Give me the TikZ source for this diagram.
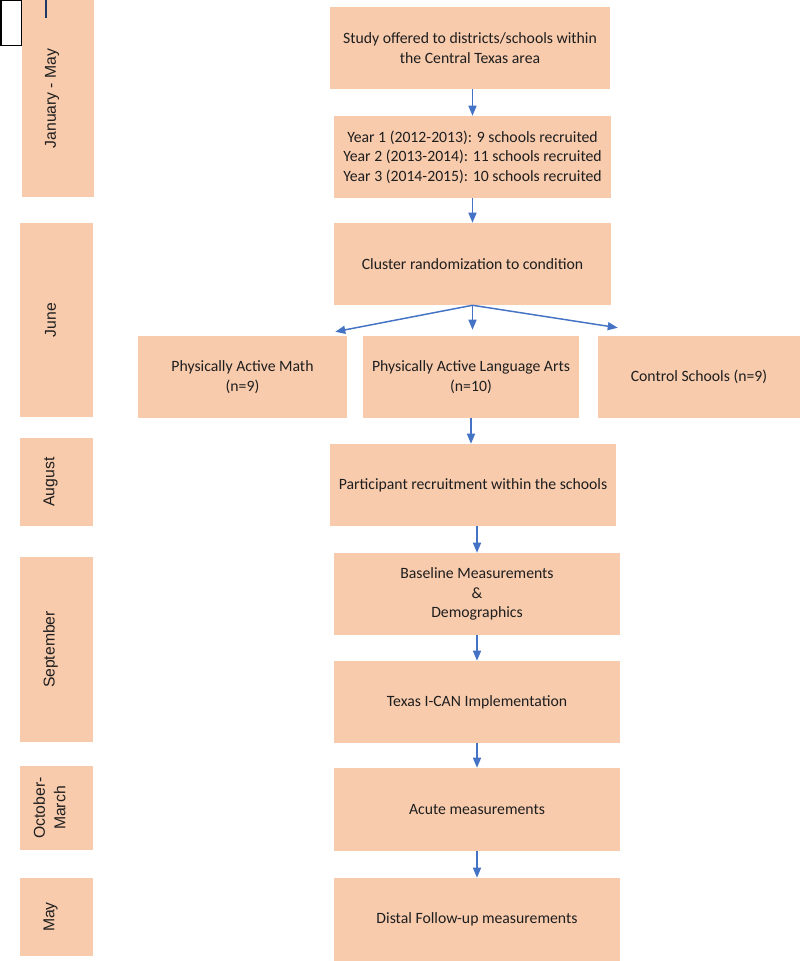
\documentclass[tikz,border=0pt]{standalone}
\usepackage{fontspec}
\setmainfont{Carlito}
\newfontfamily\armfont{Liberation Sans}
\usetikzlibrary{arrows.meta,calc}
\definecolor{salmon}{RGB}{248,203,173}
\definecolor{arrblue}{RGB}{68,114,196}
\definecolor{navy}{RGB}{31,56,100}
\definecolor{txt}{RGB}{30,30,30}
\tikzset{
  box/.style={fill=salmon, draw=none, inner sep=0pt, align=center, text=txt,
    font=\fontsize{11.8}{14.6}\selectfont},
  monthbox/.style={fill=salmon, draw=none, inner sep=0pt},
  monthtxt/.style={rotate=90, align=center, text=txt, inner sep=0pt,
    font=\armfont\fontsize{11.8}{15.5}\selectfont},
  arr/.style={draw=arrblue, line width=1.1pt, -{Triangle[length=7.5pt,width=6pt]}}
}
\begin{document}
\begin{tikzpicture}[x=0.75pt,y=-0.75pt]
\useasboundingbox (0,0) rectangle (800,961);
% stray mark at top left
\draw[black, line width=1.1pt] (0.8,0.5) rectangle (22,45.5);
% month column
\node[monthbox, minimum width=54pt, minimum height=147.75pt] (jan) at (58,98.5) {};
\node[monthtxt] (janT) at ($(jan.center)+(-6,0)$) {January - May};
\node[monthbox, minimum width=54.75pt, minimum height=145.5pt] (jun) at (56.5,320) {};
\node[monthtxt] (junT) at ($(jun.center)+(-6,0)$) {June};
\node[monthbox, minimum width=54.75pt, minimum height=66pt] (aug) at (56.5,482) {};
\node[monthtxt] (augT) at ($(aug.center)+(-6,0)$) {August};
\node[monthbox, minimum width=54.75pt, minimum height=138.75pt] (sep) at (56.5,649.5) {};
\node[monthtxt] (sepT) at ($(sep.center)+(-6,0)$) {September};
\node[monthbox, minimum width=54.75pt, minimum height=63pt] (oct) at (56.5,808) {};
\node[monthtxt] (octT) at ($(oct.center)+(-7,0)$) {October-\\March};
\node[monthbox, minimum width=54.75pt, minimum height=58.5pt] (may) at (56.5,917) {};
\node[monthtxt] (mayT) at ($(may.center)+(-6,0)$) {May};
% stray dark line at top of the first month box
\draw[navy, line width=1.6pt] (46,0) -- (46,18);
% main flow
\node[box, minimum width=210pt, minimum height=61.5pt] (study) at (470,48)
  {Study offered to districts/schools within\\the Central Texas area};
\node[box, minimum width=207.75pt, minimum height=61.5pt] (year) at (472.5,157)
  {Year 1 (2012-2013): 9 schools recruited\\Year 2 (2013-2014): 11 schools recruited\\Year 3 (2014-2015): 10 schools recruited};
\node[box, minimum width=207.75pt, minimum height=61.5pt] (cluster) at (472.5,264)
  {Cluster randomization to condition};
\node[box, minimum width=156.75pt, minimum height=61.5pt] (math) at (242.5,377)
  {Physically Active Math\\(n=9)};
\node[box, minimum width=162pt, minimum height=61.5pt] (lang) at (471,377)
  {Physically Active Language Arts\\(n=10)};
\node[box, minimum width=151.5pt, minimum height=61.5pt] (control) at (699,377)
  {Control Schools (n=9)};
\node[box, minimum width=214.5pt, minimum height=61.5pt] (part) at (473,485)
  {Participant recruitment within the schools};
\node[box, minimum width=214.5pt, minimum height=61.5pt] (base) at (477,594)
  {Baseline Measurements\\\&\\Demographics};
\node[box, minimum width=214.5pt, minimum height=61.5pt] (texas) at (477,702)
  {Texas I-CAN Implementation};
\node[box, minimum width=214.5pt, minimum height=62.25pt] (acute) at (477,809.5)
  {Acute measurements};
\node[box, minimum width=214.5pt, minimum height=62.25pt] (distal) at (477,919.5)
  {Distal Follow-up measurements};
% arrows
\draw[arr] (study.south -| year.north) -- (year.north);
\draw[arr] (year.south) -- (cluster.north);
\draw[arr] (cluster.south) -- ($(math.north east)+(-12,-4)$);
\draw[arr] (cluster.south) -- ($(cluster.south |- lang.north)+(0,-6)$);
\draw[arr] (cluster.south) -- ($(control.north west)+(20,-8)$);
\draw[arr] (lang.south) -- (lang.south |- part.north);
\draw[arr] (part.south -| base.north) -- (base.north);
\draw[arr] (base.south) -- (texas.north);
\draw[arr] (texas.south) -- (acute.north);
\draw[arr] (acute.south) -- (distal.north);
\end{tikzpicture}
\end{document}
